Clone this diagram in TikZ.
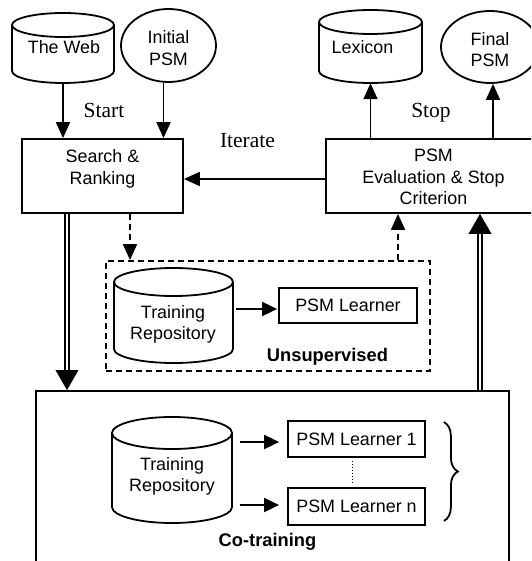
\documentclass[tikz,border=0pt]{standalone}
\usepackage{fontspec}
\setmainfont{Liberation Serif}
\setsansfont{Liberation Sans}
\usetikzlibrary{arrows.meta,calc,decorations.pathreplacing,shapes.geometric}
\newcommand{\mycyl}[6]{%
  \node[inner sep=0, minimum width={#3-#2}, minimum height={#5-#4}] (#1) at ({(#2+#3)/2},{-(#4+#5)/2}) {};
  \draw[ln] (#2,{-#4-#6}) -- (#2,{-#5+#6}) arc[start angle=180,end angle=360,x radius={(#3-#2)/2},y radius=#6] -- (#3,{-#4-#6}) arc[start angle=0,end angle=180,x radius={(#3-#2)/2},y radius=#6] arc[start angle=180,end angle=360,x radius={(#3-#2)/2},y radius=#6];
}
\begin{document}
\begin{tikzpicture}[x=1pt,y=1pt,
 ln/.style={line width=1.8pt},
 box/.style={draw, line width=1.8pt, rectangle, inner sep=0},
 arr/.style={line width=1.8pt, -{Triangle[width=14pt,length=16pt]}},
 sarr/.style={line width=1.8pt, -{Triangle[width=14pt,length=15pt]}},
 darr/.style={line width=1.8pt, dash pattern=on 6pt off 4pt, -{Triangle[width=14pt,length=16pt]}},
 dbl/.style={draw, line width=1.3pt, double, double distance=2.6pt, line cap=butt},
 sf/.style={font=\fontsize{17.9}{21.5}\selectfont\sffamily, align=center, inner sep=0},
 sfb/.style={font=\fontsize{18.3}{21.5}\selectfont\sffamily\bfseries, inner sep=0},
 srf/.style={font=\fontsize{21.5}{24}\selectfont, inner sep=0}]
\useasboundingbox (0,0) rectangle (531,-561);
\clip (0,0) rectangle (531,-561);

% sources and sinks
\mycyl{web}{12}{114}{13}{83}{12}
\mycyl{lex}{319}{422}{10}{83}{12}
\node[ellipse, draw, ln, minimum width=95, minimum height=73, inner sep=0] (ini) at (168.5,-45.5) {};
\node[ellipse, draw, ln, minimum width=98, minimum height=72, inner sep=0] (fin) at (490,-47) {};
\node[sf, anchor=base] (tweb) at (64,-53.3) {The Web};
\node[sf] (tini) at (168.5,-48.2) {Initial\\PSM};
\node[sf, anchor=base] (tlex) at (362.5,-53.3) {Lexicon};
\node[sf] (tfin) at (490,-49.4) {Final\\PSM};

% main boxes
\node[box, minimum width=161, minimum height=74] (sr) at (102.5,-176) {};
\node[sf] (tsr) at (102.5,-168.9) {Search \&\\Ranking};
\node[box, minimum width=215, minimum height=74] (ev) at (433.5,-176) {};
\node[sf] (tev) at (433.5,-177.3) {PSM\\Evaluation \& Stop\\Criterion};

\node[srf, anchor=base] (lstart) at (104,-118) {Start};
\node[srf, anchor=base] (lstop) at (431,-118) {Stop};
\node[srf, anchor=base] (lit) at (247.5,-148) {Iterate};

% unsupervised
\node[draw, line width=1.8pt, dash pattern=on 6pt off 4pt, minimum width=324, minimum height=110, inner sep=0] (uns) at (268,-316) {};
\mycyl{repoU}{114}{233}{268}{363}{14}
\node[sf] (trU) at (173,-324.2) {Training\\Repository};
\node[box, sf, minimum width=138, minimum height=35] (learnU) at (348,-305.5) {PSM Learner};
\node[sfb, anchor=base] (luns) at (327.5,-361.7) {Unsupervised};

% co-training
\node[box, minimum width=473, minimum height=189] (cot) at (272.5,-485.5) {};
\mycyl{repoC}{112}{232}{417}{523}{16}
\node[sf] (trC) at (172,-476.6) {Training\\Repository};
\node[box, sf, minimum width=137, minimum height=36] (learn1) at (356.5,-439) {PSM Learner 1};
\node[box, sf, minimum width=137, minimum height=37] (learnN) at (356.5,-506.5) {PSM Learner n};
\node[sfb, anchor=base] (lcot) at (267.5,-546) {Co-training};

% connectors
\draw[arr] (web.south) -- (web.south |- sr.north);
\coordinate (iniout) at ($(ini.south)+(-5,0)$);
\draw[arr] (iniout) -- (iniout |- sr.north);
\draw[arr] (lex.south |- ev.north) -- (lex.south);
\coordinate (finin) at ($(fin.south)+(3,0)$);
\draw[arr] (finin |- ev.north) -- (finin);
\coordinate (itS) at ($(ev.west)+(0,-3)$);
\draw[arr] (itS) -- (itS -| sr.east);

\coordinate (d1) at ($(sr.south)+(-35.5,0)$);
\coordinate (d1e) at (d1 |- cot.north);
\path[dbl] (d1) -- ($(d1e)+(0,19)$);
\fill (d1e) -- ++(-11.5,20) -- ++(23,0) -- cycle;

\coordinate (d2) at ($(ev.south)+(46.5,0)$);
\coordinate (d2s) at (d2 |- cot.north);
\path[dbl] (d2s) -- ($(d2)+(0,-19)$);
\fill (d2) -- ++(-11.5,-20) -- ++(23,0) -- cycle;

\coordinate (ds1) at ($(sr.south)+(27.5,0)$);
\draw[darr] (ds1) -- (ds1 |- uns.north);
\coordinate (ds2) at ($(uns.north)+(130,0)$);
\draw[darr] (ds2) -- (ds2 |- ev.south);

\draw[sarr] ($(repoU.east)+(3,6.5)$) -- ($(learnU.west)+(-1,-3.5)$);
\draw[sarr] ($(repoC.east)+(8,28)$) -- ($(learn1.west)+(-8,-3)$);
\draw[sarr] ($(repoC.east)+(8,-35)$) -- ($(learnN.west)+(-8,1.5)$);

\draw[ln, decorate, decoration={brace, amplitude=14pt}] ($(learn1.north east)+(18,-2)$) -- ($(learnN.south east)+(18,5)$);
\draw[line width=1pt, dotted] ($(learn1.south)+(-4.5,-3)$) -- ($(learnN.north)+(-4.5,5)$);
\end{tikzpicture}
\end{document}
